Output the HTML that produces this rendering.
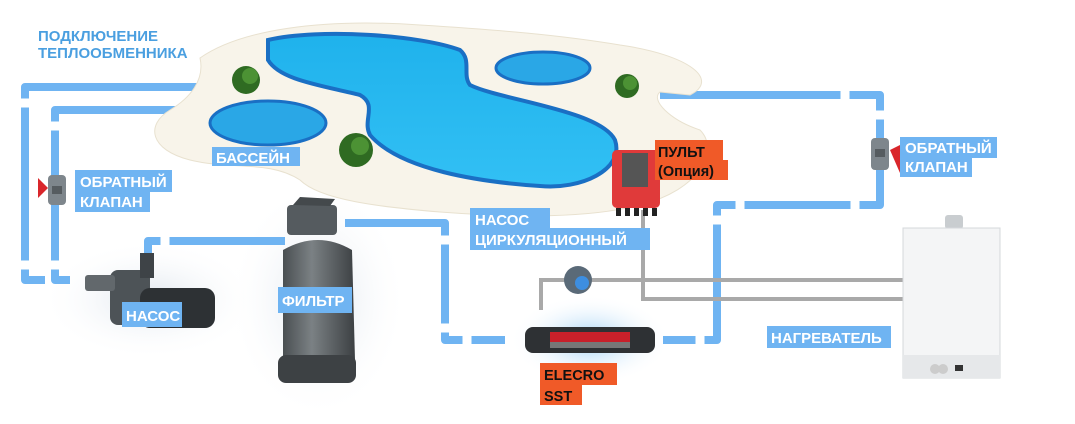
<!DOCTYPE html>
<html><head><meta charset="utf-8"><style>
html,body{margin:0;padding:0;background:#fff;}
svg{display:block;font-family:"Liberation Sans","DejaVu Sans",sans-serif;font-weight:bold;}
</style></head><body>
<svg width="1075" height="424" viewBox="0 0 1075 424" xmlns="http://www.w3.org/2000/svg">
<defs>
<radialGradient id="glow"><stop offset="0" stop-color="#dfe6ee"/><stop offset="1" stop-color="#fff" stop-opacity="0"/></radialGradient>
<linearGradient id="tank" x1="0" x2="1"><stop offset="0" stop-color="#4a4f52"/><stop offset=".4" stop-color="#7b8184"/><stop offset="1" stop-color="#3c4043"/></linearGradient>
<linearGradient id="water" x1="0" y1="0" x2="0" y2="1"><stop offset="0" stop-color="#1fb2ec"/><stop offset="1" stop-color="#32c0f4"/></linearGradient>
<radialGradient id="glowb"><stop offset="0" stop-color="#9ccff5"/><stop offset="1" stop-color="#fff" stop-opacity="0"/></radialGradient>
</defs>
<rect width="1075" height="424" fill="#fff"/>

<ellipse cx="150" cy="300" rx="110" ry="60" fill="url(#glow)"/>
<ellipse cx="318" cy="300" rx="90" ry="120" fill="url(#glow)"/>
<ellipse cx="590" cy="340" rx="80" ry="45" fill="url(#glowb)"/>

<g fill="none" stroke="#6fb4f2" stroke-width="8" stroke-linejoin="round">
<polyline points="215,87 25,87 25,280 45,280"/>
<polyline points="175,110 55,110 55,280 70,280"/>
<polyline points="148,262 148,241 285,241"/>
<polyline points="345,223 445,223 445,340 505,340"/>
<polyline points="663,340 717,340 717,205 880,205 880,95 660,95"/>
</g>
<g stroke="#fff" stroke-width="9">
<line x1="19" y1="103" x2="31" y2="103"/><line x1="49" y1="126" x2="61" y2="126"/>
<line x1="19" y1="265" x2="31" y2="265"/><line x1="49" y1="265" x2="61" y2="265"/>
<line x1="165" y1="235" x2="165" y2="247"/><line x1="439" y1="240" x2="451" y2="240"/>
<line x1="439" y1="328" x2="451" y2="328"/><line x1="467" y1="334" x2="467" y2="346"/>
<line x1="700" y1="334" x2="700" y2="346"/><line x1="711" y1="220" x2="723" y2="220"/>
<line x1="740" y1="199" x2="740" y2="211"/><line x1="855" y1="199" x2="855" y2="211"/>
<line x1="874" y1="115" x2="886" y2="115"/><line x1="845" y1="89" x2="845" y2="101"/>
</g>
<g fill="none" stroke="#a9a9a9" stroke-width="4">
<polyline points="541,310 541,280 905,280"/>
<polyline points="643,210 643,299 905,299"/>
</g>

<path d="M200,58 C240,30 320,18 420,25 C500,30 560,35 620,45 C690,55 720,80 690,95 L660,92 C650,100 670,120 700,130 C720,150 700,190 640,205 C590,218 520,218 440,212 C380,207 320,200 300,180 C270,160 230,170 190,160 C150,150 145,125 170,110 C190,98 205,80 200,58 Z" fill="#f8f4ea" stroke="#e8e1cf"/>
<path d="M268,40 C320,28 420,35 460,50 C472,60 462,75 470,85 C500,100 600,110 615,140 C625,170 580,190 540,186 C480,182 400,170 370,135 C362,120 378,105 360,95 C320,85 280,80 268,60 Z" fill="url(#water)" stroke="#1a6fc4" stroke-width="4"/>
<ellipse cx="268" cy="123" rx="58" ry="22" fill="#2aa7e6" stroke="#1a6fc4" stroke-width="3"/>
<ellipse cx="543" cy="68" rx="47" ry="16" fill="#2aa7e6" stroke="#1a6fc4" stroke-width="3"/>
<g fill="#2f6b22"><circle cx="246" cy="80" r="14"/><circle cx="356" cy="150" r="17"/><circle cx="627" cy="86" r="12"/></g>
<g fill="#4c9234"><circle cx="250" cy="76" r="8"/><circle cx="360" cy="146" r="9"/><circle cx="630" cy="83" r="7"/></g>

<rect x="48" y="175" width="18" height="30" rx="4" fill="#7e868c"/><rect x="52" y="186" width="10" height="8" fill="#565c60"/>
<path d="M38,178 L48,188 L38,198 Z" fill="#d9262b"/>
<rect x="871" y="138" width="18" height="32" rx="4" fill="#7e868c"/><rect x="875" y="149" width="10" height="8" fill="#565c60"/>
<path d="M890,150 L900,145 L900,173 Z" fill="#d9262b"/>

<rect x="110" y="270" width="40" height="55" rx="8" fill="#4d5357"/>
<rect x="140" y="288" width="75" height="40" rx="10" fill="#2d3134"/>
<rect x="85" y="275" width="30" height="16" rx="3" fill="#62686c"/>
<rect x="140" y="253" width="14" height="25" fill="#3e4347"/>
<rect x="287" y="205" width="50" height="30" rx="4" fill="#555b5f"/>
<path d="M293,205 L300,197 L335,199 L330,206 Z" fill="#44494c"/>
<path d="M283,250 Q318,230 352,250 L355,360 Q318,375 283,360 Z" fill="url(#tank)"/>
<rect x="278" y="355" width="78" height="28" rx="8" fill="#3d4144"/>
<circle cx="578" cy="280" r="14" fill="#5a6a78"/><circle cx="582" cy="283" r="7" fill="#3d8ee0"/>
<rect x="525" y="327" width="130" height="26" rx="8" fill="#2e3134"/>
<rect x="550" y="332" width="80" height="10" fill="#c8202a"/>
<rect x="550" y="342" width="80" height="6" fill="#777"/>
<rect x="612" y="150" width="48" height="58" rx="5" fill="#e03a3a"/>
<rect x="622" y="153" width="26" height="34" fill="#555"/>
<g fill="#222"><rect x="616" y="208" width="5" height="8"/><rect x="625" y="208" width="5" height="8"/><rect x="634" y="208" width="5" height="8"/><rect x="643" y="208" width="5" height="8"/><rect x="652" y="208" width="5" height="8"/></g>
<rect x="945" y="215" width="18" height="14" rx="3" fill="#c9cdd0"/>
<rect x="903" y="228" width="97" height="150" fill="#f4f5f6" stroke="#d5d8db"/>
<rect x="903" y="355" width="97" height="23" fill="#e6e8ea"/>
<circle cx="935" cy="369" r="5" fill="#ccc"/><circle cx="943" cy="369" r="5" fill="#ccc"/><rect x="955" y="365" width="8" height="6" fill="#333"/>

<g fill="#6fb4f2">
<rect x="212" y="147" width="88" height="19"/>
<rect x="75" y="170" width="97" height="22"/><rect x="75" y="190" width="75" height="22"/>
<rect x="122" y="302" width="60" height="25"/>
<rect x="278" y="287" width="74" height="26"/>
<rect x="470" y="208" width="80" height="22"/><rect x="470" y="228" width="180" height="22"/>
<rect x="900" y="137" width="97" height="21"/><rect x="900" y="156" width="72" height="21"/>
<rect x="767" y="326" width="124" height="22"/>
</g>
<g fill="#fff" font-size="15">
<text x="216" y="163">БАССЕЙН</text>
<text x="80" y="187">ОБРАТНЫЙ</text><text x="80" y="207">КЛАПАН</text>
<text x="126" y="321">НАСОС</text>
<text x="282" y="306">ФИЛЬТР</text>
<text x="475" y="225">НАСОС</text><text x="475" y="245">ЦИРКУЛЯЦИОННЫЙ</text>
<text x="905" y="153">ОБРАТНЫЙ</text><text x="905" y="172">КЛАПАН</text>
<text x="771" y="343">НАГРЕВАТЕЛЬ</text>
</g>
<g fill="#f05a28">
<rect x="655" y="140" width="68" height="22"/><rect x="655" y="160" width="73" height="20"/>
<rect x="540" y="363" width="77" height="22"/><rect x="540" y="383" width="42" height="22"/>
</g>
<g fill="#111" font-size="14.5">
<text x="658" y="157">ПУЛЬТ</text><text x="658" y="176">(Опция)</text>
<text x="544" y="380">ELECRO</text><text x="544" y="401">SST</text>
</g>
<text x="38" y="41" fill="#4a9fe0" font-size="15">ПОДКЛЮЧЕНИЕ</text>
<text x="38" y="58" fill="#4a9fe0" font-size="15">ТЕПЛООБМЕННИКА</text>
</svg>
</body></html>
